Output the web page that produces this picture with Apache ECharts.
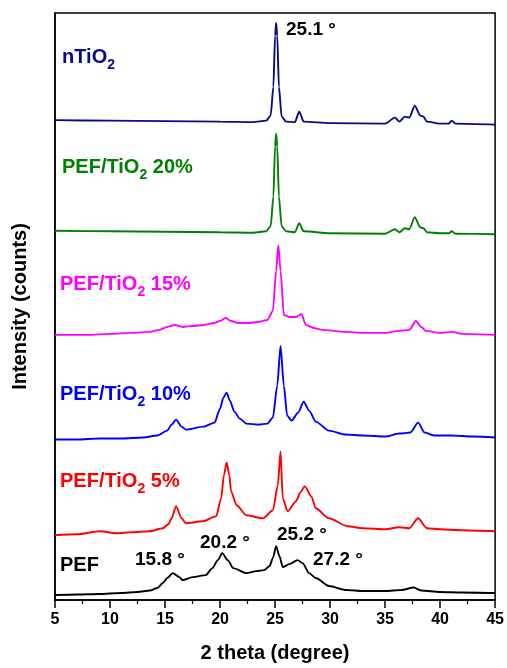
<html>
<head>
<meta charset="UTF-8">
<title>XRD</title>
<script src="https://cdn.jsdelivr.net/npm/echarts@6/dist/echarts.min.js"></script>
</head>
<body style="margin:0">
<div id="container" style="width:507px;height:668px;"></div>
<script>
// 2 theta (deg), intensity with the stacking offset already included (arbitrary counts)
var pef = [[5,5],[7,5.5],[9,6],[11,7],[12.5,8],[13.6,9.5],[14.3,12],[14.8,17],[15.2,22],[15.7,27],[16.3,23],[16.6,20],[17.5,23],[18.7,25],[19.3,32],[19.8,40],[20.2,47],[20.7,40],[21.2,32],[22.4,27],[23.3,29],[24,30],[24.5,34],[24.8,42],[25.1,54],[25.4,44],[25.7,33],[26.3,36],[27.05,40],[27.5,37],[28.1,27],[28.7,22],[29.9,14],[31.5,10],[33,9],[35,9],[36.5,10],[37.6,12.5],[38.3,9.5],[40,8],[42,7.5],[45,7]];
var tio5 = [[5,65],[7,66],[9.1,69],[10.6,67],[12,68],[13.6,69],[14.8,72],[15.3,76],[15.6,82],[16.0,94],[16.5,82],[16.9,77],[18.4,79],[19.65,84],[20.1,102],[20.35,125],[20.6,138],[20.85,125],[21.0,109],[21.5,95],[22.4,85],[23.9,82],[24.8,90],[25.25,115],[25.5,149],[25.7,102],[26.15,89],[26.9,99],[27.3,108],[27.7,114],[28.3,104],[28.7,92],[29.9,82],[31.6,74],[33,72],[35,71],[36.3,73],[37.2,72],[38.0,82],[38.8,72],[40,71],[42,70],[45,69]];
var tio10 = [[5,161],[7,161],[9,162],[11,162],[13,163],[14.3,165],[15.2,170],[15.6,176],[16.0,181],[16.5,174],[16.9,171],[18.5,174],[19.5,178],[20.0,192],[20.3,203],[20.6,208],[20.9,200],[21.3,189],[21.8,182],[22.4,177],[23.5,176],[24.3,177],[24.8,183],[25.2,215],[25.5,255],[25.8,215],[26.1,185],[26.5,180],[27.1,188],[27.6,199],[28.1,190],[28.7,179],[29.9,170],[31.4,166],[33,165],[35,164],[36.3,167],[37.3,168],[38.0,178],[38.6,168],[39.5,165],[41,165],[43,164],[45,163]];
var tio15 = [[5,266],[8,266],[10,267],[12,268],[13.6,269],[14.5,271],[15.2,274],[15.9,276],[16.6,274],[17.5,275],[18.5,276],[19.5,278],[20.0,280],[20.5,283],[21,280],[21.6,278],[22.5,278],[23.5,279],[24.3,281],[24.8,290],[25.1,330],[25.3,356],[25.5,330],[25.8,286],[26.3,284],[26.9,284],[27.4,287],[27.8,276],[28.5,273],[29.3,271],[31.4,269],[33,268],[35,268],[36.3,270],[37.2,271],[37.8,280],[38.3,274],[38.7,270],[40,268],[41.1,269],[42,267],[45,266]];
var tio20 = [[5,370.5],[10,370],[15,369.5],[20,369],[23,368.5],[24.2,370],[24.6,375],[24.85,405],[25.0,455],[25.1,468],[25.2,455],[25.35,405],[25.6,375],[26,370],[26.8,369],[27.2,378],[27.6,370],[30,368],[35,367.5],[35.9,372],[36.3,369],[36.8,373],[37.2,372],[37.7,384],[38.2,374],[38.5,373],[38.8,369],[40,368],[40.8,368],[41.05,370],[41.4,367.5],[45,367]];
var ntio2 = [[5,481.5],[10,481],[15,480.5],[20,480],[23,479.5],[24.2,481],[24.6,486],[24.85,515],[25.0,566],[25.1,579],[25.2,566],[25.35,515],[25.6,485],[26,480],[26.8,479.5],[27.2,490],[27.6,480],[30,478.5],[35,478],[35.9,484],[36.3,480],[36.8,485],[37.2,484],[37.7,496],[38.2,486],[38.5,485],[38.8,480],[40,478],[40.8,478],[41.05,481],[41.4,478],[45,477]];

var seriesData = [pef, tio5, tio10, tio15, tio20, ntio2];
var colors = ['#000000', '#ff0000', '#0000ff', '#ff00ff', '#008000', '#0a0a86'];
var xTicks = [5, 10, 15, 20, 25, 30, 35, 40, 45];

var mycharts = echarts.init(document.getElementById('container'));
var font = 'Liberation Sans, Arial, sans-serif';

// sample name with a subscript 2, (x, y) = left edge, middle of the capitals
function sampleLabel(main, rest, color, x, y) {
    return {
        type: 'text', x: x, y: y,
        style: {
            text: '{a|' + main + '}{s|2}{a|' + rest + '}',
            fill: color,
            verticalAlign: 'middle',
            rich: {
                a: {fontSize: 20, fontWeight: 'bold', fontFamily: font, fill: color, lineHeight: 30},
                s: {fontSize: 14, fontWeight: 'bold', fontFamily: font, fill: color, lineHeight: 13, verticalAlign: 'bottom'}
            }
        }
    };
}
function peakLabel(txt, x, y) {
    return {
        type: 'text', x: x, y: y,
        style: {text: txt, fill: '#000', font: 'bold 19px ' + font, verticalAlign: 'middle'}
    };
}

var option = {
    animation: false,
    grid: {left: 55, right: 11, top: 13, bottom: 66, show: true, borderColor: '#000', borderWidth: 1.5},
    xAxis: {
        type: 'value', min: xTicks[0], max: xTicks[xTicks.length - 1], interval: 5,
        name: '2 theta (degree)', nameLocation: 'middle', nameGap: 43,
        nameTextStyle: {fontSize: 20, fontWeight: 'bold', fontFamily: font, color: '#000'},
        axisLine: {lineStyle: {color: '#000', width: 1.5}},
        axisTick: {length: 8, lineStyle: {color: '#000', width: 1.5}},
        minorTick: {show: true, splitNumber: 2, length: 4, lineStyle: {color: '#000', width: 1.2}},
        axisLabel: {fontSize: 16, fontWeight: 'bold', fontFamily: font, color: '#000', margin: 12},
        splitLine: {show: false}
    },
    yAxis: {
        type: 'value', min: 0, max: 589,
        name: 'Intensity (counts)', nameLocation: 'middle', nameGap: 25, nameRotate: 90,
        nameTextStyle: {fontSize: 20, fontWeight: 'bold', fontFamily: font, color: '#000'},
        axisLine: {show: true, lineStyle: {color: '#000', width: 1.5}},
        axisTick: {show: false},
        axisLabel: {show: false},
        splitLine: {show: false}
    },
    series: seriesData.map(function (d, i) {
        return {
            type: 'line', data: d, showSymbol: false, smooth: 0.25, smoothMonotone: 'x',
            lineStyle: {color: colors[i], width: 1.9}
        };
    }),
    graphic: [
        sampleLabel('nTiO', '', colors[5], 62, 57),
        sampleLabel('PEF/TiO', ' 20%', colors[4], 62, 167),
        sampleLabel('PEF/TiO', ' 15%', colors[3], 60, 284),
        sampleLabel('PEF/TiO', ' 10%', colors[2], 60, 394),
        sampleLabel('PEF/TiO', ' 5%', colors[1], 60, 481),
        {type: 'text', x: 60, y: 565, style: {text: 'PEF', fill: '#000', font: 'bold 20px ' + font, verticalAlign: 'middle'}},
        peakLabel('25.1 °', 286, 30),
        peakLabel('15.8 °', 135, 560),
        peakLabel('20.2 °', 200, 543),
        peakLabel('25.2 °', 277, 535),
        peakLabel('27.2 °', 313, 560)
    ]
};
mycharts.setOption(option);
</script>
</body>
</html>
